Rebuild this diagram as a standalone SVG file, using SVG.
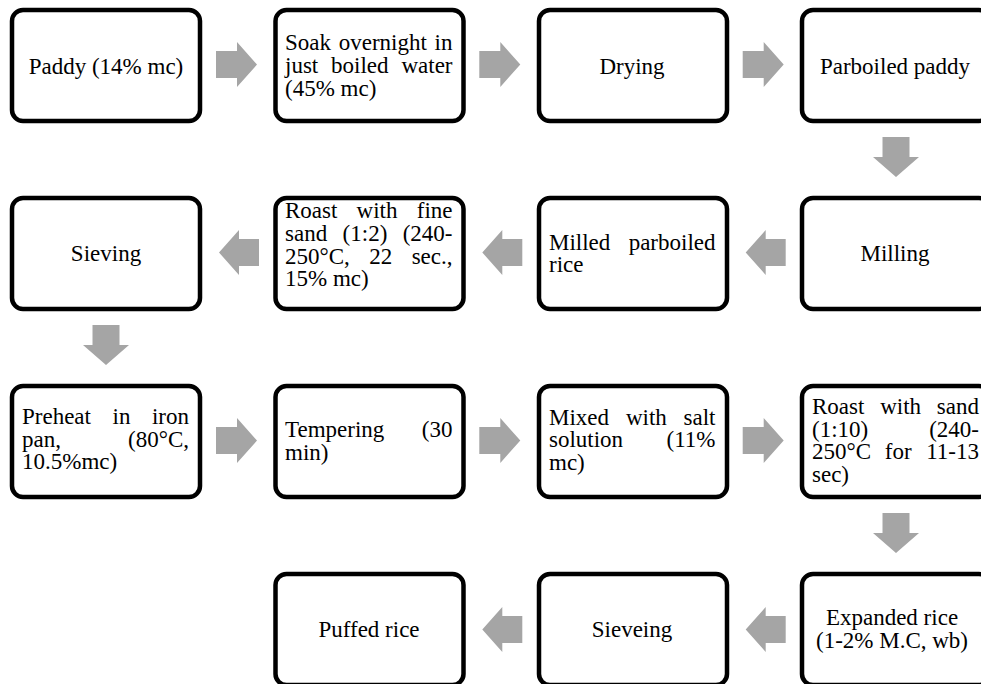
<svg xmlns="http://www.w3.org/2000/svg" width="981" height="684" viewBox="0 0 981 684">
<style>
.box{fill:#fff;stroke:#000;stroke-width:4.5}
.arr{fill:#a5a5a5;stroke:none}
text{font-family:"Liberation Serif","Times New Roman",serif;font-size:23px;fill:#000}
.c{text-anchor:middle}
.e{text-anchor:end}
</style>
<rect width="981" height="684" fill="#fff"/>
<defs>
<path id="ar" d="M0,-13.5 H21 V-22.5 L41,0 L21,22.5 V13.5 H0 Z"/>
<path id="al" d="M40,-13.5 H20 V-22.5 L0,0 L20,22.5 V13.5 H40 Z"/>
<path id="ad" d="M-13.5,0 V20 H-23 L0,40 L23,20 H13.5 V0 Z"/>
</defs>
<g id="connectors" class="arr">
<use href="#ar" x="216" y="64.5"/>
<use href="#ar" x="479.3" y="64.5"/>
<use href="#ar" x="742.7" y="64.5"/>
<use href="#ad" x="896" y="137"/>
<use href="#al" x="745.7" y="252.5"/>
<use href="#al" x="482.3" y="252.5"/>
<use href="#al" x="219" y="252.5"/>
<use href="#ad" x="106" y="325"/>
<use href="#ar" x="216" y="440.5"/>
<use href="#ar" x="479.3" y="440.5"/>
<use href="#ar" x="742.7" y="440.5"/>
<use href="#ad" x="896" y="513"/>
<use href="#al" x="745.7" y="629.5"/>
<use href="#al" x="482.3" y="629.5"/>
</g>
<g id="n1"><rect class="box" x="12" y="10" width="188" height="111" rx="11"/>
<text class="c" x="106" y="73.5">Paddy (14% mc)</text></g>
<g id="n2"><rect class="box" x="275.5" y="10" width="188" height="111" rx="11"/>
<text x="285" y="50.3">Soak</text><text x="338.7" y="50.3">overnight</text><text class="e" x="452.5" y="50.3">in</text>
<text x="285" y="73">just</text><text x="331.1" y="73">boiled</text><text class="e" x="452.5" y="73">water</text>
<text x="285" y="95.7">(45% mc)</text></g>
<g id="n3"><rect class="box" x="539" y="10" width="188" height="111" rx="11"/>
<text class="c" x="632" y="73.5">Drying</text></g>
<g id="n4"><rect class="box" x="802" y="10" width="188" height="111" rx="11"/>
<text class="c" x="895" y="73.5">Parboiled paddy</text></g>
<g id="n5"><rect class="box" x="802" y="198" width="188" height="111" rx="11"/>
<text class="c" x="895" y="261">Milling</text></g>
<g id="n6"><rect class="box" x="539" y="198" width="188" height="111" rx="11"/>
<text x="549" y="249.5">Milled</text><text class="e" x="715.5" y="249.5">parboiled</text>
<text x="549" y="272">rice</text></g>
<g id="n7"><rect class="box" x="275.5" y="198" width="188" height="111" rx="11"/>
<text x="285" y="218">Roast</text><text x="356.6" y="218">with</text><text class="e" x="452.5" y="218">fine</text>
<text x="285" y="241">sand</text><text x="342.6" y="241">(1:2)</text><text class="e" x="452.5" y="241">(240-</text>
<text x="285" y="263.5">250°C,</text><text x="369.2" y="263.5">22</text><text class="e" x="452.5" y="263.5">sec.,</text>
<text x="285" y="286">15% mc)</text></g>
<g id="n8"><rect class="box" x="12" y="198" width="188" height="111" rx="11"/>
<text class="c" x="106" y="261">Sieving</text></g>
<g id="n9"><rect class="box" x="12" y="386" width="188" height="111" rx="11"/>
<text x="22" y="424">Preheat</text><text x="112.5" y="424">in</text><text class="e" x="189" y="424">iron</text>
<text x="22" y="446.7">pan,</text><text class="e" x="189" y="446.7">(80°C,</text>
<text x="22" y="469.4">10.5%mc)</text></g>
<g id="n10"><rect class="box" x="275.5" y="386" width="188" height="111" rx="11"/>
<text x="285" y="437">Tempering</text><text class="e" x="452.5" y="437">(30</text>
<text x="285" y="460">min)</text></g>
<g id="n11"><rect class="box" x="539" y="386" width="188" height="111" rx="11"/>
<text x="549" y="424.5">Mixed</text><text x="625.9" y="424.5">with</text><text class="e" x="715.5" y="424.5">salt</text>
<text x="549" y="447">solution</text><text class="e" x="715.5" y="447">(11%</text>
<text x="549" y="470">mc)</text></g>
<g id="n12"><rect class="box" x="802" y="386" width="188" height="111" rx="11"/>
<text x="812" y="414">Roast</text><text x="880.2" y="414">with</text><text class="e" x="979" y="414">sand</text>
<text x="812" y="436.7">(1:10)</text><text class="e" x="979" y="436.7">(240-</text>
<text x="812" y="459.4">250°C</text><text x="884.8" y="459.4">for</text><text class="e" x="979" y="459.4">11-13</text>
<text x="812" y="482">sec)</text></g>
<g id="n13"><rect class="box" x="802" y="574" width="188" height="111" rx="11"/>
<text class="c" x="892" y="625">Expanded rice</text>
<text class="c" x="892" y="647.5">(1-2% M.C, wb)</text></g>
<g id="n14"><rect class="box" x="539" y="574" width="188" height="111" rx="11"/>
<text class="c" x="632" y="637">Sieveing</text></g>
<g id="n15"><rect class="box" x="275.5" y="574" width="188" height="111" rx="11"/>
<text class="c" x="369" y="637">Puffed rice</text></g>
</svg>
